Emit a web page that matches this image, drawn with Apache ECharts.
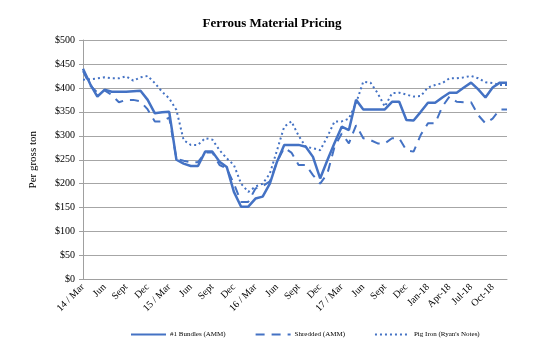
<!DOCTYPE html>
<html>
<head>
<meta charset="utf-8">
<script src="https://cdn.jsdelivr.net/npm/echarts@6/dist/echarts.min.js"></script>
<style>html,body{margin:0;padding:0;background:#fff;}#c{width:544px;height:359px;}</style>
</head>
<body>
<div id="c"></div>
<script>
var tickLabels = ['14 / Mar','Jun','Sept','Dec','15 / Mar','Jun','Sept','Dec','16 / Mar','Jun','Sept','Dec','17 / Mar','Jun','Sept','Dec','Jan-18','Apr-18','Jul-18','Oct-18'];
var bundles = [440,408,382,396,392,392,392,393,394,375,347,349,350,250,242,237,237,267,267,246,235,183,152,152,169,173,200,246,281,281,281,277,256,211,249,285,319,312,375,355,355,355,355,371,371,333,332,350,369,369,380,390,390,401,411,397,380,401,411,411];
var shredded = [435,405,390,395,385,370,375,375,372,355,330,330,338,252,248,245,245,265,265,239,232,200,162,162,190,195,205,246,275,265,239,239,218,200,221,277,305,284,322,295,291,284,284,295,295,270,267,302,326,326,361,382,371,370,370,343,326,336,355,355];
var pigIron = [417,418,420,422,420,420,424,415,422,425,410,392,378,354,291,281,281,295,292,270,253,239,200,183,194,200,221,270,319,330,300,277,274,270,298,330,330,336,368,413,411,389,361,389,390,386,382,383,401,406,410,420,420,422,425,420,412,410,406,406];
var yTicks = [0,50,100,150,200,250,300,350,400,450,500];

var categories = [];
for (var i = 0; i < bundles.length; i++) {
  categories.push(i % 3 === 0 ? tickLabels[i / 3] : '');
}
var serif = 'Liberation Serif';
var color = '#4472C4';
var chart = echarts.init(document.getElementById('c'), null, {renderer: 'canvas'});
chart.setOption({
  backgroundColor: '#fff',
  animation: false,
  title: {
    text: 'Ferrous Material Pricing',
    left: 'center', top: 12,
    textStyle: {fontFamily: serif, fontSize: 13, fontWeight: 'bold', color: '#000'}
  },
  grid: {left: 83, right: 37, top: 40, bottom: 79.5, containLabel: false},
  legend: {
    left: 130, top: 331, width: 400, padding: 0,
    itemWidth: 35, itemHeight: 8, itemGap: 29,
    itemStyle: {opacity: 0},
    textStyle: {fontFamily: serif, fontSize: 7, color: '#000', padding: [0, 0, 0, -1]},
    data: ['#1 Bundles (AMM)', 'Shredded (AMM)', "Pig Iron (Ryan's Notes)"]
  },
  xAxis: {
    type: 'category',
    data: categories,
    boundaryGap: false,
    axisLine: {lineStyle: {color: '#a0a0a0', width: 1}},
    axisTick: {show: false},
    axisLabel: {interval: 2, rotate: 45, fontFamily: serif, fontSize: 10, color: '#000', margin: 6}
  },
  yAxis: {
    type: 'value',
    min: yTicks[0], max: yTicks[yTicks.length - 1], interval: 50,
    name: 'Per gross ton',
    nameLocation: 'middle', nameRotate: 90, nameGap: 44,
    nameTextStyle: {fontFamily: serif, fontSize: 11, color: '#000'},
    axisLine: {show: true, lineStyle: {color: '#a0a0a0', width: 1}},
    axisTick: {show: true, length: 4, lineStyle: {color: '#a0a0a0'}},
    splitLine: {lineStyle: {color: '#a6a6a6', width: 1}},
    axisLabel: {fontFamily: serif, fontSize: 10, color: '#000', margin: 8,
      formatter: function (v) { return '$' + v; }}
  },
  series: [
    {name: '#1 Bundles (AMM)', type: 'line', data: bundles, symbol: 'none',
      lineStyle: {color: color, width: 2.5, type: 'solid'}, itemStyle: {color: color}, z: 3},
    {name: 'Shredded (AMM)', type: 'line', data: shredded, symbol: 'none',
      lineStyle: {color: color, width: 2, type: [9, 7]}, itemStyle: {color: color}, z: 2},
    {name: "Pig Iron (Ryan's Notes)", type: 'line', data: pigIron, symbol: 'none',
      lineStyle: {color: color, width: 2, type: [2, 3]}, itemStyle: {color: color}, z: 1}
  ]
});
</script>
</body>
</html>
